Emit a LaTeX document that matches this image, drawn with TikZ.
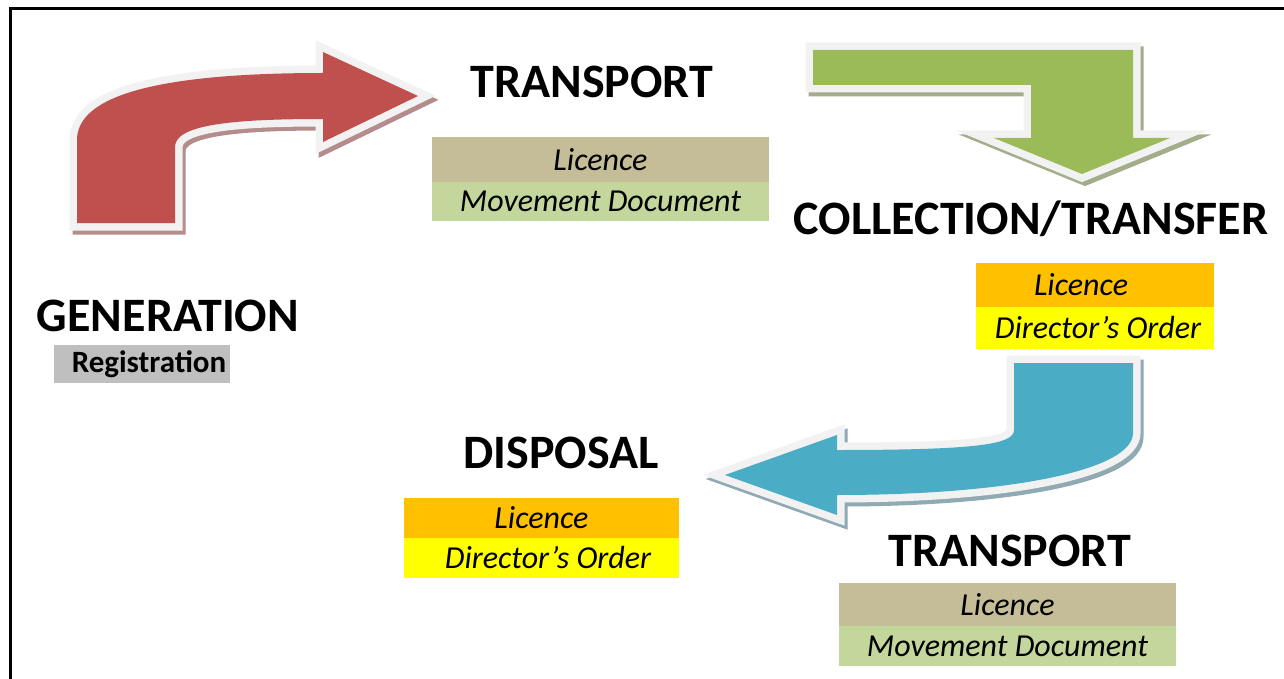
\documentclass[tikz,border=0pt]{standalone}
\usepackage{fontspec}
\setmainfont{Carlito}
\usetikzlibrary{positioning}

\definecolor{rim}{HTML}{F2F2F2}
\definecolor{brick}{HTML}{C0504D}
\definecolor{brickshade}{HTML}{B58C8C}
\definecolor{olive}{HTML}{9BBB59}
\definecolor{oliveshade}{HTML}{A3AD8B}
\definecolor{sky}{HTML}{4BACC6}
\definecolor{skyshade}{HTML}{8FAAB3}
\definecolor{khaki}{HTML}{C4BD97}
\definecolor{sage}{HTML}{C3D69B}
\definecolor{amber}{HTML}{FFC000}
\definecolor{lemon}{HTML}{FFFF00}
\definecolor{silver}{HTML}{BFBFBF}

\tikzset{
	heading/.style={font=\fontsize{48}{52}\selectfont\bfseries, inner sep=0},
	docbar/.style={font=\fontsize{32}{36}\selectfont\itshape, inner sep=0, outer sep=0}
}

% fill colour, shadow colour, outline path
\def\bentarrow#1#2#3{%
	\draw[line width=15pt, line join=miter, color=#2, fill=#2, shift={(3,4)}] #3;
	\draw[line width=15pt, line join=miter, color=rim, fill=rim] #3;
	\fill[#1] #3;}

\begin{document}
\begin{tikzpicture}[x=1pt, y=-1pt]
			%%%%% START %%%%%
			\useasboundingbox (0,0) rectangle (1284,679);
			
			\draw[line width=3pt] (10,679) -- (10,9) -- (1284,9);
			
			% generation -> transport
			\bentarrow{brick}{brickshade}{(77,223) -- (77,140) .. controls (77,95) and (160,73) .. (323,73) -- (323,52) -- (418,96) -- (323,142) -- (323,119) .. controls (230,119) and (175,125) .. (175,147) -- (175,223) -- cycle}
			
			% transport -> collection
			\bentarrow{olive}{oliveshade}{(813,50) -- (1133,50) -- (1133,138) -- (1170,138) -- (1082,174) -- (994,138) -- (1031,138) -- (1031,85) -- (813,85) -- cycle}
			
			% collection -> disposal
			\bentarrow{sky}{skyshade}{(1014,363) -- (1133,363) -- (1133,433) .. controls (1133,470) and (1010,495) .. (837,495) -- (837,515) -- (725,475) -- (837,435) -- (837,450) .. controls (980,450) and (1014,444) .. (1014,430) -- cycle}
			
			\node[heading] (gen) at (168,316) {GENERATION};
			\node[docbar, fill=silver, minimum width=176, minimum height=38, font=\fontsize{31}{34}\selectfont\bfseries] (reg) at (142,364) {\hspace{14pt}Registration};
			
			\node[heading] (tr1) at (592,82) {TRANSPORT};
			\node[docbar, fill=khaki, minimum width=337, minimum height=45] (lic1) at (600.5,159.5) {Licence};
			\node[docbar, fill=sage, minimum width=337, minimum height=39, below=0pt of lic1] (mov1) {Movement Document};
			
			\node[heading] (coll) at (1031,219) {COLLECTION/TRANSFER};
			\node[docbar, fill=amber, minimum width=238, minimum height=44] (lic2) at (1095,285) {\hspace{-28pt}Licence};
			\node[docbar, fill=lemon, minimum width=238, minimum height=42, below=0pt of lic2] (ord2) {\hspace{6pt}Director’s Order};
			
			\node[heading] (disp) at (561,453) {DISPOSAL};
			\node[docbar, fill=amber, minimum width=275, minimum height=40] (lic3) at (541.5,518) {Licence};
			\node[docbar, fill=lemon, minimum width=275, minimum height=40, below=0pt of lic3] (ord3) {\hspace{13pt}Director’s Order};
			
			\node[heading] (tr2) at (1010,551) {TRANSPORT};
			\node[docbar, fill=khaki, minimum width=337, minimum height=43] (lic4) at (1007.5,604.5) {Licence};
			\node[docbar, fill=sage, minimum width=337, minimum height=40, below=0pt of lic4] (mov4) {Movement Document};
			
			%%%%% END %%%%%
\end{tikzpicture}
\end{document}
